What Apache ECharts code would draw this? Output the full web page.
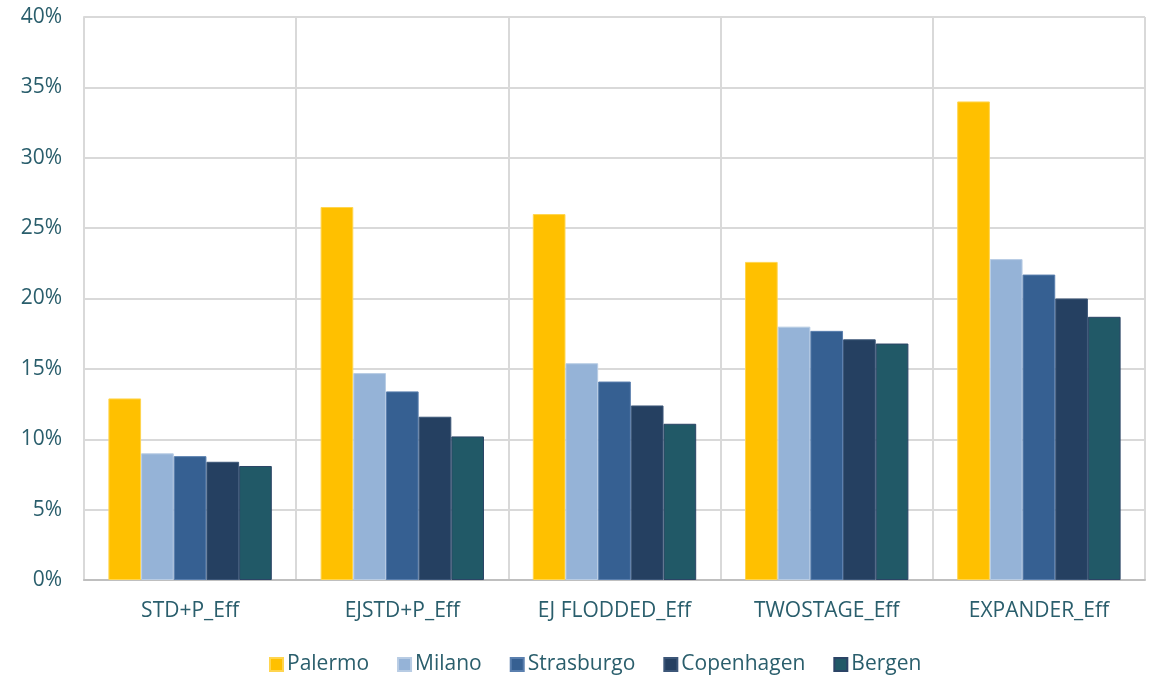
<!DOCTYPE html>
<html>
<head>
<meta charset="utf-8">
<script src="https://cdn.jsdelivr.net/npm/echarts@6/dist/echarts.min.js"></script>
<style>
  html, body { margin: 0; padding: 0; background: #ffffff; }
  #chart { width: 1153px; height: 678px; }
</style>
</head>
<body>
<div id="chart"></div>
<script>
// Efficiency gain per configuration, by city (percent)
const categories = ['STD+P_Eff', 'EJSTD+P_Eff', 'EJ FLODDED_Eff', 'TWOSTAGE_Eff', 'EXPANDER_Eff'];
const palermo    = [12.9, 26.5, 26.0, 22.6, 34.0];
const milano     = [9.0, 14.7, 15.4, 18.0, 22.8];
const strasburgo = [8.8, 13.4, 14.1, 17.7, 21.7];
const copenhagen = [8.4, 11.6, 12.4, 17.1, 20.0];
const bergen     = [8.1, 10.2, 11.1, 16.8, 18.7];
const yTicks = [0, 5, 10, 15, 20, 25, 30, 35, 40];

const textColor = '#2A5E6C';
const fontFamily = '"Open Sans", "Noto Sans", sans-serif';

const seriesDefs = [
  { name: 'Palermo',    data: palermo,    color: '#FFC000', border: '#FFD54F' },
  { name: 'Milano',     data: milano,     color: '#95B3D7', border: '#B8CCE4' },
  { name: 'Strasburgo', data: strasburgo, color: '#366092', border: '#5A7FAE' },
  { name: 'Copenhagen', data: copenhagen, color: '#254061', border: '#3C5678' },
  { name: 'Bergen',     data: bergen,     color: '#215967', border: '#2B4466' }
];

const chart = echarts.init(document.getElementById('chart'), null, { renderer: 'canvas' });

chart.setOption({
  animation: false,
  backgroundColor: '#ffffff',
  textStyle: { fontFamily: fontFamily },
  grid: { left: 84, right: 8, top: 17, bottom: 98, containLabel: false },
  legend: {
    left: 264,
    top: 649,
    itemWidth: 13,
    itemHeight: 13,
    itemGap: 28,
    icon: 'rect',
    textStyle: { color: textColor, fontSize: 21, fontFamily: fontFamily, padding: [0, 0, 0, -1] },
    data: seriesDefs.map(s => s.name)
  },
  xAxis: {
    type: 'category',
    data: categories,
    axisTick: { show: false },
    axisLine: { show: true, lineStyle: { color: '#BFBFBF', width: 2 } },
    axisLabel: { color: textColor, fontSize: 21, margin: 21 },
    splitLine: { show: true, lineStyle: { color: '#D9D9D9', width: 2 } }
  },
  yAxis: {
    type: 'value',
    min: 0,
    max: 40,
    interval: 5,
    axisLine: { show: true, lineStyle: { color: '#D9D9D9', width: 2 } },
    axisTick: { show: false },
    axisLabel: {
      color: textColor,
      fontSize: 21,
      margin: 22,
      formatter: v => yTicks.includes(v) ? v + '%' : ''
    },
    splitLine: { show: true, lineStyle: { color: '#D9D9D9', width: 2 } }
  },
  series: seriesDefs.map(s => ({
    name: s.name,
    type: 'bar',
    data: s.data,
    barGap: '0%',
    barCategoryGap: '23%',
    itemStyle: { color: s.color, borderColor: s.border, borderWidth: 1 }
  }))
});
</script>
</body>
</html>
